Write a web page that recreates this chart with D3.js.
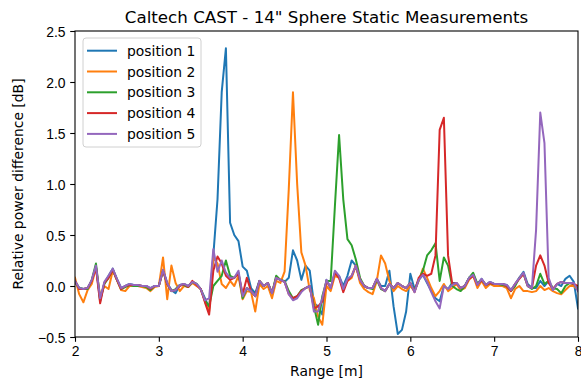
<!DOCTYPE html>
<html>
<head>
<meta charset="utf-8">
<script src="https://cdn.jsdelivr.net/npm/d3@7"></script>
<style>
	body { margin: 0; background: #fff; }
	svg { display: block; font-family: 'DejaVu Sans', sans-serif; }
	.axis text { font-size: 13.9px; fill: #000; }
	.axis path, .axis line { stroke: #000; stroke-width: 1.1px; }
</style>
</head>
<body>
<div id="chart"></div>
<script>
// sample positions along range, every 5 cm from 2 m to 8 m
const rangeM = d3.range(0, 121).map(i => +(2 + i * 0.05).toFixed(2));

const seriesNames = ['position 1', 'position 2', 'position 3', 'position 4', 'position 5'];
const seriesColors = ['#1f77b4', '#ff7f0e', '#2ca02c', '#d62728', '#9467bd'];

const xTicks = [2, 3, 4, 5, 6, 7, 8];
const yTicks = [-0.5, 0, 0.5, 1, 1.5, 2, 2.5];

// relative power difference [dB], one value per range sample
const pos1 = [
	0.05, -0.02, -0.03, -0.02, 0.05, 0.19, -0.15, 0.03, 0.1, 0.17,
	0.07, -0.02, 0.0, 0.02, 0.01, 0.01, 0.0, 0.0, -0.02, 0.0,
	0.0, 0.16, 0.03, -0.04, -0.07, 0.01, 0.02, 0.0, 0.04, 0.02,
	-0.03, -0.12, -0.22, 0.3, 0.85, 1.9, 2.33, 0.62, 0.5, 0.44,
	0.19, 0.15, -0.02, -0.07, 0.05, 0.0, 0.03, -0.07, 0.08, 0.06,
	0.04, 0.08, 0.35, 0.25, 0.06, 0.2, 0.15, -0.17, -0.2, -0.28,
	0.06, -0.02, 0.12, 0.1, 0.0, 0.1, 0.25, 0.2, 0.06, 0.0,
	-0.02, -0.02, 0.07, 0.0, 0.0, 0.15, -0.2, -0.47, -0.43, -0.25,
	0.12, -0.03, 0.06, 0.11, 0.03, -0.05, -0.12, -0.15, 0.0, -0.03,
	0.03, 0.03, -0.02, 0.0, 0.08, 0.11, 0.02, 0.07, 0.01, 0.04,
	0.02, 0.02, 0.02, 0.01, -0.04, 0.02, 0.08, 0.14, 0.02, -0.02,
	-0.02, 0.05, 0.0, 0.05, -0.04, 0.02, 0.0, 0.07, 0.1, 0.04,
	-0.22
];
const pos2 = [
	0.08, -0.08, -0.16, -0.04, 0.02, 0.18, -0.1, 0.0, -0.03, 0.15,
	0.06, -0.04, -0.05, 0.0, 0.0, 0.0, -0.01, -0.02, -0.05, -0.01,
	0.0, 0.28, -0.13, 0.2, 0.03, -0.05, 0.0, -0.01, 0.03, 0.0,
	-0.03, -0.15, -0.25, 0.28, 0.22, 0.02, -0.02, 0.05, 0.0, 0.1,
	-0.13, -0.05, -0.06, -0.25, 0.02, -0.03, 0.0, -0.12, 0.05, 0.03,
	0.14, 0.95, 1.9, 1.0, 0.33, 0.2, -0.04, -0.12, -0.3, -0.38,
	0.0, -0.05, 0.1, 0.08, -0.03, 0.05, 0.08, 0.2, 0.03, -0.03,
	-0.06, -0.08, 0.05, 0.3, 0.22, 0.05, -0.05, 0.0, -0.03, -0.05,
	0.0, -0.05, 0.05, 0.17, 0.08, -0.02, -0.1, -0.05, 0.02, -0.05,
	-0.02, 0.02, -0.04, -0.02, 0.06, 0.1, -0.02, 0.05, -0.02, 0.02,
	0.0, 0.0, 0.0, -0.02, -0.12, -0.03, 0.0, -0.05, -0.05, -0.06,
	-0.05, 0.0, -0.04, -0.02, -0.05, -0.07, -0.08, -0.04, 0.0, 0.0,
	-0.04
];
const pos3 = [
	0.04, -0.02, -0.03, -0.03, 0.06, 0.22, -0.13, 0.02, 0.08, 0.16,
	0.06, -0.03, -0.01, 0.01, 0.0, 0.0, 0.0, -0.01, -0.04, 0.0,
	0.0, 0.15, 0.02, -0.05, -0.03, 0.01, 0.01, -0.01, 0.04, 0.02,
	-0.03, -0.14, -0.2, 0.0, 0.05, 0.1, 0.25, 0.1, 0.08, 0.13,
	-0.12, -0.02, -0.05, -0.1, 0.05, 0.0, 0.03, -0.07, 0.1, 0.06,
	0.05, -0.05, -0.12, -0.1, -0.04, -0.02, 0.0, -0.2, -0.38, -0.1,
	0.05, 0.05, 0.78, 1.48, 0.85, 0.46, 0.4, 0.26, 0.08, 0.0,
	-0.02, -0.03, 0.06, -0.03, -0.05, 0.02, -0.02, 0.03, 0.0, -0.02,
	0.03, -0.05, 0.06, 0.15, 0.3, 0.35, 0.42, 0.05, 0.28, 0.2,
	0.0, -0.03, -0.05, 0.0, 0.08, 0.13, 0.02, 0.06, 0.01, 0.03,
	0.02, 0.02, 0.01, 0.0, -0.05, 0.0, 0.08, 0.12, 0.0, -0.03,
	0.0, 0.12, 0.02, 0.05, -0.02, -0.03, -0.07, 0.0, 0.03, 0.02,
	-0.03
];
const pos4 = [
	0.05, -0.03, -0.03, -0.02, 0.05, 0.18, -0.17, 0.03, 0.08, 0.16,
	0.06, -0.03, 0.0, 0.01, 0.01, 0.01, 0.0, 0.0, -0.03, 0.0,
	0.0, 0.15, 0.02, -0.05, -0.04, 0.0, 0.02, -0.01, 0.05, 0.01,
	-0.03, -0.16, -0.28, 0.15, 0.29, 0.22, 0.1, 0.06, 0.08, 0.12,
	-0.08, 0.08, -0.05, -0.1, 0.05, 0.0, 0.03, -0.07, 0.08, 0.06,
	0.04, -0.08, -0.12, -0.1, -0.05, -0.02, 0.0, -0.22, -0.2, -0.15,
	0.05, -0.02, 0.13, 0.08, -0.06, 0.05, 0.1, 0.2, 0.06, 0.0,
	-0.02, -0.02, 0.07, -0.02, -0.05, 0.02, -0.02, 0.03, 0.0, -0.02,
	0.03, -0.06, 0.08, 0.12, 0.1, 0.12, 0.3, 1.53, 1.65, 0.3,
	0.02, 0.03, -0.02, 0.0, 0.07, 0.1, 0.01, 0.06, 0.01, 0.03,
	0.02, 0.02, 0.02, 0.0, -0.05, 0.02, 0.07, 0.12, 0.0, -0.02,
	0.2, 0.3, 0.2, 0.03, -0.03, 0.02, 0.04, 0.03, 0.03, 0.02,
	0.0
];
const pos5 = [
	0.05, -0.02, -0.03, -0.02, 0.06, 0.2, -0.12, 0.04, 0.1, 0.17,
	0.07, -0.02, 0.0, 0.02, 0.01, 0.01, 0.0, 0.0, -0.02, 0.0,
	0.0, 0.16, 0.03, -0.05, -0.04, 0.01, 0.02, 0.0, 0.04, 0.02,
	-0.03, -0.14, -0.12, 0.36, 0.14, 0.25, 0.13, 0.08, 0.08, 0.15,
	-0.1, -0.02, -0.05, -0.1, 0.05, 0.0, 0.03, -0.07, 0.08, 0.06,
	0.04, -0.08, -0.14, -0.12, -0.06, -0.02, 0.0, -0.25, -0.25, -0.12,
	0.06, -0.02, 0.15, 0.1, -0.03, 0.07, 0.1, 0.2, 0.06, 0.0,
	-0.02, -0.02, 0.07, -0.02, -0.05, 0.02, -0.02, 0.03, 0.0, -0.02,
	0.03, -0.06, 0.06, 0.11, 0.04, -0.06, -0.15, -0.22, 0.0, -0.03,
	0.01, 0.03, -0.02, 0.0, 0.08, 0.11, 0.01, 0.07, 0.01, 0.04,
	0.02, 0.02, 0.02, 0.01, -0.04, 0.02, 0.08, 0.13, 0.0, -0.02,
	0.55, 1.7, 1.4, 0.08, -0.04, 0.02, 0.04, 0.03, 0.03, 0.03,
	-0.05
];
const seriesValues = [pos1, pos2, pos3, pos4, pos5];

// dimension stuff
const width = 581;
const height = 381;
const marginTop = 31;
const marginBottom = 44;
const marginLeft = 75;
const marginRight = 3;
const tickLen = 4.8;

const x = d3.scaleLinear().domain([2, 8]).range([marginLeft, width - marginRight]);
const y = d3.scaleLinear().domain([-0.5, 2.5]).range([height - marginBottom, marginTop]);

const $svg = d3.select('#chart').append('svg')
	.attr('width', width)
	.attr('height', height);

$svg.append('defs').append('clipPath').attr('id', 'plot-clip')
	.append('rect')
	.attr('x', marginLeft)
	.attr('y', marginTop)
	.attr('width', width - marginLeft - marginRight)
	.attr('height', height - marginTop - marginBottom);

// lines
const line = d3.line()
	.x((d, i) => x(rangeM[i]))
	.y(d => y(d));

$svg.append('g').attr('class', 'g-lines').attr('clip-path', 'url(#plot-clip)')
	.selectAll('path')
	.data(seriesValues)
	.join('path')
	.attr('fill', 'none')
	.attr('stroke', (d, i) => seriesColors[i])
	.attr('stroke-width', 2)
	.attr('stroke-linejoin', 'round')
	.attr('stroke-linecap', 'square')
	.attr('d', line);

// axes
const $xAxis = $svg.append('g').attr('class', 'axis')
	.attr('transform', `translate(0, ${height - marginBottom})`)
	.call(d3.axisBottom(x).tickValues(xTicks).tickFormat(d3.format('d'))
		.tickSizeOuter(0).tickSize(tickLen).tickPadding(4.7));
$xAxis.select('.domain').remove();

const $yAxis = $svg.append('g').attr('class', 'axis')
	.attr('transform', `translate(${marginLeft}, 0)`)
	.call(d3.axisLeft(y).tickValues(yTicks).tickFormat(d => d3.format('.1f')(d).replace('-', '\u2212'))
		.tickSizeOuter(0).tickSize(tickLen).tickPadding(4.7));
$yAxis.select('.domain').remove();
$yAxis.selectAll('text').attr('dy', '0.36em');

// frame
$svg.append('rect')
	.attr('x', marginLeft)
	.attr('y', marginTop)
	.attr('width', width - marginLeft - marginRight)
	.attr('height', height - marginTop - marginBottom)
	.attr('fill', 'none')
	.attr('stroke', '#000')
	.attr('stroke-width', 1.1);

// labels
$svg.append('text')
	.attr('x', (marginLeft + width - marginRight) / 2)
	.attr('y', 23)
	.attr('text-anchor', 'middle')
	.style('font-size', '16.7px')
	.text('Caltech CAST - 14" Sphere Static Measurements');

$svg.append('text')
	.attr('x', (marginLeft + width - marginRight) / 2)
	.attr('y', 376)
	.attr('text-anchor', 'middle')
	.style('font-size', '13.9px')
	.text('Range [m]');

$svg.append('text')
	.attr('transform', `translate(23, ${(marginTop + height - marginBottom) / 2}) rotate(-90)`)
	.attr('text-anchor', 'middle')
	.style('font-size', '13.9px')
	.text('Relative power difference [dB]');

// legend
const $legend = $svg.append('g').attr('class', 'g-legend');
$legend.append('rect')
	.attr('x', 83)
	.attr('y', 38)
	.attr('width', 118)
	.attr('height', 109)
	.attr('rx', 3)
	.attr('fill', '#fff')
	.attr('fill-opacity', 0.8)
	.attr('stroke', '#d0d0d0')
	.attr('stroke-width', 1);

const $item = $legend.selectAll('.item')
	.data(seriesNames)
	.join('g')
	.attr('class', 'item')
	.attr('transform', (d, i) => `translate(0, ${50.7 + i * 20.8})`);

$item.append('line')
	.attr('x1', 87)
	.attr('x2', 117)
	.attr('stroke', (d, i) => seriesColors[i])
	.attr('stroke-width', 2);

$item.append('text')
	.attr('x', 127)
	.attr('dy', '0.36em')
	.style('font-size', '13.9px')
	.text(d => d);
</script>
</body>
</html>
